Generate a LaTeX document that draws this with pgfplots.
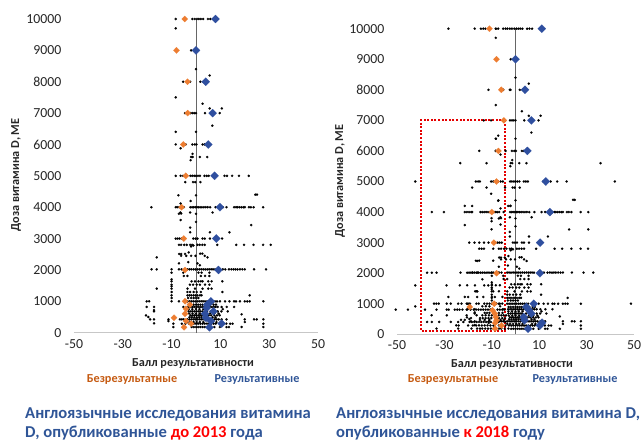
\documentclass[border=0pt]{standalone}
\usepackage{pgfplots}
\usepackage{pgfplotstable}
\usepackage{fontspec}
\setmainfont{Carlito}
\pgfplotsset{compat=1.18}
\definecolor{dorange}{HTML}{ED7D31}
\definecolor{lorange}{HTML}{C55A11}
\definecolor{dblue}{HTML}{2F4F9F}
\definecolor{tblue}{HTML}{2F5597}
\pgfplotstableread[row sep=\\]{x y\\
-8.3 10000\\ -1.5 10000\\ -0.5 10000\\ 0.4 10000\\ 1.2 10000\\ 2 10000\\ 2.9 10000\\ 4.9 10000\\ 5.9 10000\\ 7 10000\\
-8.3 9700\\ -2 9000\\ 0 8400\\ 5.6 8200\\ -5.3 8000\\ -2.4 8000\\ 1.8 8000\\ 3 8000\\ -8.3 7500\\ 2.7 7300\\ 5.6 7150\\ 10.6 7150\\
-4.5 7000\\ -2.3 7000\\ -1.5 7000\\ -0.7 7000\\ 0 7000\\ 3.7 7000\\ 9.7 7000\\ 6.7 6600\\ -8.3 6400\\ 0 6400\\
-8.3 6000\\ -4.2 6000\\ -1.5 6000\\ -0.5 6000\\ 0.2 6000\\ 2.7 6000\\ 3.5 6000\\ -6.3 5880\\ -1.4 5700\\ -2 5600\\ -1.4 5600\\ 1.6 5600\\ 4.6 5600\\ -2.2 5500\\
-8.3 5000\\ -6.3 5000\\ -5.3 5000\\ -2.3 5000\\ -1.5 5000\\ -0.7 5000\\ 0 5000\\ 0.8 5000\\ 1.6 5000\\ 3.5 5000\\ 4.4 5000\\ 5.2 5000\\ 11.7 5000\\ 12.7 5000\\ 14.8 5000\\ 17.6 5000\\ 21.6 5000\\
-4.4 4800\\ -1.2 4800\\ -0.3 4800\\ 1.8 4800\\ 24.3 4400\\ 25 4400\\ -7.2 4380\\ 0 4380\\ -2.2 4200\\ -6.3 4120\\
-18.3 4000\\ -8.3 4000\\ -7.7 4000\\ -6.9 4000\\ -5 4000\\ -2.3 4000\\ -1.6 4000\\ -1 4000\\ -0.3 4000\\ 0.4 4000\\ 1 4000\\ 1.7 4000\\ 2.4 4000\\ 3.2 4000\\ 4 4000\\ 4.8 4000\\ 5.8 4000\\ 8 4000\\ 11 4000\\ 12.5 4000\\ 15.6 4000\\ 16.4 4000\\ 17 4000\\ 17.8 4000\\ 18.6 4000\\ 19.4 4000\\ 20 4000\\ 21.7 4000\\ 22.5 4000\\ 23.6 4000\\ 27.5 4000\\
-7 3790\\ -6.4 3830\\ -6.1 3800\\ -2.4 3830\\ 0 3790\\ 6.8 3830\\ -6.3 3590\\ 0 3530\\ 22.6 3430\\ -2.4 3350\\ -2.4 3200\\ 5.7 3200\\ 13.7 3200\\
-8.3 3000\\ -7.5 3000\\ -6.7 3000\\ -5.8 3000\\ -1.1 3000\\ -0.2 3000\\ 0.6 3000\\ 2.7 3000\\ 3.6 3000\\ 5.7 3000\\ 10.7 3000\\
-7 2800\\ -6.1 2800\\ -4.8 2800\\ -3.8 2800\\ -2.4 2800\\ -2 2750\\ -1.6 2800\\ -1.1 2780\\ 0.6 2800\\ 1.5 2800\\ 2.6 2800\\ 3.6 2800\\ 8.7 2800\\ 16.5 2800\\ 19.7 2800\\ 23.6 2800\\ 27.5 2800\\ 30.6 2800\\
-6.9 2510\\ -6.1 2510\\ -6.1 2450\\ -4.5 2510\\ -3 2560\\ -4 2450\\ -2 2450\\ -0.2 2450\\ 1.7 2520\\ 2.6 2520\\ 3.6 2450\\ 4.7 2400\\ -16.1 2400\\
-7 2210\\ -3.2 2250\\ 0.6 2210\\ 1.6 2150\\
-18.2 2020\\ -16.1 2020\\ -10 2020\\ -7 2020\\ -5.9 2020\\ -3.5 2020\\ -2.7 2020\\ -1.9 2020\\ -1 2020\\ -0.2 2020\\ 0.6 2020\\ 1.4 2020\\ 2.2 2020\\ 3 2020\\ 3.8 2020\\ 4.6 2020\\ 5.4 2020\\ 6.2 2020\\ 7 2020\\ 7.8 2020\\ 11 2020\\ 12 2020\\ 13.5 2020\\ 14.5 2020\\ 15.4 2020\\ 16.2 2020\\ 17 2020\\ 18 2020\\ 19 2020\\ 20 2020\\ 23.8 2020\\ 28.7 2020\\
-10 1914\\ -5.2 1914\\ 1 1914\\ 2.3 1914\\ 5.5 1914\\ -5 1808\\ -3.5 1808\\ 2 1808\\ 3.7 1808\\ 5.5 1808\\ -10 1700\\
-10 1637\\ -1.8 1637\\ -0.4 1637\\ 1 1637\\ 2 1637\\ 2.7 1637\\ 5 1637\\ 6.4 1637\\ 10.8 1637\\
-10 1530\\ -2.5 1530\\ -1.2 1530\\ 0.3 1530\\ 1.6 1530\\ 3.7 1530\\ 5.5 1530\\ -10 1478\\
-16.1 1404\\ -10 1404\\ -3.5 1404\\ -0.4 1404\\ 2.7 1404\\ 5 1404\\ 6.4 1404\\
-10 1297\\ -3.5 1297\\ -2.4 1297\\ -1 1297\\ 0.3 1297\\ 2 1297\\ 10.8 1297\\
-10 1191\\ -3.5 1191\\ -2.7 1191\\ -1.9 1191\\ -1 1191\\ -0.2 1191\\ 0.6 1191\\ 1.6 1191\\ 2.3 1191\\ 22 1191\\
-10 1106\\ -3.2 1106\\ -2 1106\\ -1 1106\\ 0 1106\\ 1 1106\\
-20.2 1000\\ -19.2 1000\\ -10 1000\\ -7 1000\\ -3.5 1000\\ -2.7 1000\\ -1.9 1000\\ -1.1 1000\\ -0.3 1000\\ 0.5 1000\\ 1.3 1000\\ 2.1 1000\\ 2.9 1000\\ 3.7 1000\\ 4.5 1000\\ 5.3 1000\\ 7 1000\\ 7.8 1000\\ 8.6 1000\\ 9.8 1000\\ 11.9 1000\\ 13.7 1000\\ 15.6 1000\\ 16.4 1000\\ 18 1000\\ 20 1000\\ 21 1000\\ 22 1000\\ 27.6 1000\\
-2.9 893\\ -2 893\\ -1 893\\ 0 893\\ 0.9 893\\ 1.8 893\\ 2.7 893\\ 3.6 893\\ 5.8 893\\ 7.2 893\\ 8.2 893\\
-20.2 820\\ -17.2 820\\ -5.2 820\\ -3.1 820\\ -2.3 820\\ -1.5 820\\ -0.7 820\\ 0.1 820\\ 0.9 820\\ 1.7 820\\ 2.5 820\\ 3.3 820\\ 4.9 820\\ 5.7 820\\ 6.5 820\\ 7.3 820\\ 8 820\\ 8.9 820\\ 10.5 820\\ 12.6 820\\ 15.6 820\\
-17.2 720\\ -3 750\\ -1.5 750\\ 0 750\\ 1.4 750\\ 3 750\\ 11 750\\
-17.2 680\\ -3 680\\ -2.1 680\\ -1.3 680\\ -0.5 680\\ 0.3 680\\ 1.1 680\\ 1.9 680\\ 2.7 680\\ 4.5 680\\ 6 680\\ 8.9 680\\ 10.4 680\\ 13 680\\
-2.8 610\\ -1.4 610\\ 0 610\\ 1.5 610\\ 2.8 610\\ 5.7 610\\ 7.5 610\\ 9.3 610\\
18.7 585\\ -20.5 553\\ -2.3 553\\ -1.5 553\\ -0.7 553\\ 0.1 553\\ 0.9 553\\ 1.7 553\\ 2.5 553\\ 5.2 553\\ 6.2 553\\ 7.5 553\\ 8.6 553\\ 9.7 553\\
-19.5 500\\ -2.7 490\\ -1.7 490\\ -0.7 490\\ 0.3 490\\ 1.3 490\\ 2.3 490\\ 6.8 490\\ 8 490\\
-18.8 425\\ -17.2 425\\ -11.3 425\\ -6.6 425\\ -5.8 425\\ -5 425\\ -3.5 425\\ -2.7 425\\ -1.9 425\\ -1.1 425\\ -0.3 425\\ 0.5 425\\ 1.3 425\\ 2.1 425\\ 2.9 425\\ 3.7 425\\ 4.5 425\\ 5.3 425\\ 6.1 425\\ 6.9 425\\ 7.7 425\\ 8.5 425\\ 9.3 425\\ 10.5 425\\ 12.5 425\\ 20 425\\ 23.8 425\\ 24.9 425\\ 27.6 425\\
-11.3 370\\ -17.2 300\\ -3.5 340\\ -2.3 340\\ -1 340\\ 0.3 340\\ 1.6 340\\ 3 340\\ 7 340\\ 8.4 340\\ 20 340\\
-9.3 287\\ -5.8 287\\ -4.3 287\\ -2.8 287\\ -1.8 287\\ -0.9 287\\ 0 287\\ 0.9 287\\ 1.8 287\\ 2.7 287\\ 3.6 287\\ 4.5 287\\ 5.4 287\\ 6.3 287\\ 7.2 287\\ 8.1 287\\ 12.4 287\\ 14 287\\ 15 287\\ 27.6 287\\
-9.3 180\\ -4.5 180\\ -1.8 180\\ -0.9 180\\ 0 180\\ 0.9 180\\ 1.8 180\\ 2.7 180\\ 3.6 180\\ 7.5 180\\ 9.8 180\\ 12.5 180\\ 13.5 180\\ 18.7 180\\ 27.6 180\\
}\tableA
\pgfplotstableread[row sep=\\]{x y\\
-28.3 10000\\ -17.2 10000\\ -14.6 10000\\ -13.6 10000\\ -12.7 10000\\ -8.3 10000\\ -7.3 10000\\ -5.2 10000\\ -4.2 10000\\ -3.4 10000\\ -2.4 10000\\
-11.4 8000\\ -5.2 8000\\ -2.1 8000\\ -13.4 7000\\ -10.3 7000\\ -7.3 6500\\ -8.3 6400\\ -15.3 6000\\ -8.3 6000\\ -23.3 5600\\ -12.2 5600\\ 35.9 5600\\
-42.3 5000\\ -16.7 5000\\ -15.8 5000\\ -15 5000\\ -10.3 5000\\ -9.4 5000\\ -7.3 5000\\ 41.9 5000\\ -18.3 4800\\ -12.2 4800\\ -10.3 4600\\ -7.3 4370\\ -21.4 4200\\ -18.3 4200\\ -3.1 4200\\ -2.1 4200\\
-35.3 4000\\ -30.2 4000\\ -21.4 4000\\ -20.5 4000\\ -19.6 4000\\ -18.7 4000\\ -14.8 4000\\ -14 4000\\ -13.2 4000\\ -12.4 4000\\ -11.6 4000\\ -10.8 4000\\ -9.5 4000\\ -8.7 4000\\ 30.7 4000\\
-10.1 3800\\ -10.1 3700\\ -21.4 3575\\ -10.1 3435\\ 30.7 3435\\ -19.5 3000\\ -17.3 3000\\ -15.3 3000\\ -13.3 3000\\ -11.4 3000\\ -9.4 3000\\
-15.3 2800\\ -14.3 2800\\ -13.3 2800\\ -9.4 2800\\ -16.7 2408\\ -15.3 2408\\ -9.4 2408\\
-37.3 2016\\ -35.3 2016\\ -33.3 2016\\ -23.2 2016\\ -20.4 2016\\ -19.6 2016\\ -18.8 2016\\ -18 2016\\ -17.2 2016\\ -16.4 2016\\ -15.6 2016\\ -14.8 2016\\ -14 2016\\ -13.2 2016\\ -12.4 2016\\ -11.6 2016\\ -10.8 2016\\ -10 2016\\ -9.2 2016\\ -7 2016\\ 32.8 2016\\
-14 1800\\ -42.3 1603\\ -29.1 1603\\ -23.5 1603\\ -20.4 1603\\ -17.1 1603\\ -13.2 1603\\ -11.5 1603\\ -10 1603\\ -8.3 1603\\ -6.6 1603\\
-17 1407\\ -16.4 1407\\ -9.4 1407\\ -7 1407\\ -28.3 1221\\ -21.4 1221\\ -20 1221\\ -16.2 1221\\ -13.6 1221\\ -10 1221\\ -8.7 1221\\ -5.5 1221\\
-34.4 1003\\ -33.4 1003\\ -32.4 1003\\ -29 1003\\ -27.3 1003\\ -24.2 1003\\ -22.8 1003\\ -20.6 1003\\ -19.6 1003\\ -16.5 1003\\ -15.5 1003\\ -13.2 1003\\ -12 1003\\ -11 1003\\ -8 1003\\ -6.6 1003\\ -5.6 1003\\ 48.7 1003\\
-42.3 916\\ -19 916\\ -14 916\\ -12.5 916\\ -11 916\\ -6.5 916\\
-50.5 807\\ -45.4 807\\ -38.2 807\\ -33.3 807\\ -29 807\\ -28.2 807\\ -25.6 807\\ -24.6 807\\ -23.6 807\\ -22.4 807\\ -20.6 807\\ -19 807\\ -17.6 807\\ -16.6 807\\ -15.6 807\\ -14.6 807\\ -13.6 807\\ -12.6 807\\ -11.6 807\\ -10.6 807\\ -7.6 807\\ -6.6 807\\ -5.6 807\\ -4.6 807\\
-13 700\\ -12 700\\ -11 700\\ -7 700\\ -5.5 700\\
-35.4 622\\ -29 622\\ -20.6 622\\ -16.4 622\\ -14 622\\ -12.6 622\\ -11.2 622\\ -10 622\\ -7 622\\ -6 622\\ -5 622\\ -4 622\\
-18.8 530\\ -15 530\\ -13.8 530\\ -12.6 530\\ -11.4 530\\ -10.2 530\\ -7 530\\ -5.6 530\\ -4.4 530\\
-23 470\\ -21.4 470\\ -15 470\\ -13 470\\ -11 470\\ -6.3 470\\ -4.9 470\\
-37.3 404\\ -35.3 404\\ -32.2 404\\ -27.3 404\\ -24.2 404\\ -22 404\\ -19.4 404\\ -18.4 404\\ -17.4 404\\ -16.4 404\\ -15.4 404\\ -14.4 404\\ -13.4 404\\ -12.4 404\\ -11.4 404\\ -10.4 404\\ -7.2 404\\ -4.3 404\\
-25 290\\ -24 290\\ -20 290\\ -18 290\\ -16.6 290\\ -15.4 290\\ -14.2 290\\ -13 290\\ -11.8 290\\ -10.6 290\\ -7 290\\
-33.3 186\\ -24.2 186\\ -18.6 186\\ -16.2 186\\ -15 186\\ -14 186\\ -12.8 186\\ -11.6 186\\ -10.4 186\\ -7 186\\ -6 186\\ -3 186\\
}\tableB
\pgfplotsset{
  panel/.style={
    scale only axis, axis x line=bottom, axis y line=left,
    axis line style={-}, x axis line style={draw=black!22, line width=0.8pt},
    y axis line style={draw=none}, major tick length=0pt,
    xmin=-50, xmax=50, ymin=0, ymax=10000,
    scaled y ticks=false, scaled x ticks=false,
    xtick={-50,-30,-10,10,30,50},
    ytick={0,1000,2000,3000,4000,5000,6000,7000,8000,9000,10000},
    /pgf/number format/assume math mode=true,
    /pgf/number format/1000 sep={},
    tick label style={font=\fontsize{13.8}{14}\selectfont, text=black!85},
    yticklabel style={xshift=-9pt}, xticklabel style={yshift=-3pt},
    clip=false,
  },
  dots/.style={only marks, mark=*, mark size=1.2pt, black, mark options={draw=black, fill=black, line width=0.1pt}},
  oran/.style={only marks, mark=diamond*, mark size=3.1pt, mark options={draw=dorange, fill=dorange, line width=0.1pt, xscale=1.33}},
  blu/.style={only marks, mark=diamond*, mark size=4.1pt, mark options={draw=dblue, fill=dblue, line width=0.1pt, xscale=1.33}},
  cline/.style={no markers, draw=black!60, line width=0.9pt},
}
\begin{document}
\begin{tikzpicture}[x=1pt,y=1pt]
\path[use as bounding box] (0,0) rectangle (641,441);
\begin{axis}[panel, at={(74pt,108.3pt)}, anchor=south west, width=244pt, height=313.7pt]
\addplot[dots] table {\tableA};
\addplot[cline] coordinates {(0,0) (0,10000)};
\addplot[oran] coordinates {(-4.6,10000) (-8,9000) (-3.5,8000) (-3.4,7000) (-5.2,6000) (-4.2,5000) (-5.9,4000) (-5,3000) (-4.5,2000) (-4.5,1000) (-2.5,893) (-4.1,765) (-4.5,606) (-9,478) (-4.1,373) (-2,287) (-4.9,172)};
\addplot[blu] coordinates {(8,10000) (0,9000) (4,8000) (6.8,7000) (5,6000) (7.6,5000) (9.8,4000) (8.3,3000) (9.2,2000) (6.1,1000) (4.6,893) (4.4,790) (7.1,680) (3.7,606) (4.1,478) (6.1,373) (10.5,287) (5.5,172)};
\end{axis}
\begin{axis}[panel, at={(397pt,106.7pt)}, anchor=south west, width=237pt, height=305.6pt]
\addplot[dots] table {\tableA};
\addplot[dots] table {\tableB};
\addplot[cline] coordinates {(0,0) (0,10000)};
\addplot[no markers, draw=red!90!black, line width=2pt, dash pattern=on 2pt off 1.6pt] coordinates {(-4.5,7000) (-40,7000) (-40,120) (-4.5,120) (-4.5,7000)};
\addplot[oran] coordinates {(-11,10000) (-8,9000) (-6,8000) (-4.9,7000) (-7.2,6000) (-8,5000) (-10,4000) (-9.1,3000) (-8,2000) (-9,1000) (-19.3,893) (-9.7,785) (-8.7,675) (-8.3,565) (-8,458) (-8.6,370) (-5.9,290) (-8.6,183)};
\addplot[blu] coordinates {(11.1,10000) (0,9000) (4,8000) (6.7,7000) (5,6000) (12.8,5000) (14.5,4000) (10.4,3000) (10.3,2000) (7.7,1000) (4.6,893) (5.7,785) (6.7,675) (3.5,565) (3.8,458) (11.2,380) (10.3,290) (5.3,183)};
\end{axis}
\def\lab{\fontsize{12.2}{13}\selectfont\bfseries}
\node[rotate=90, font=\lab, text=black!85] at (16,266) {Доза витамина D, МЕ};
\node[rotate=90, font=\lab, text=black!85] at (340,260) {Доза витамина D, МЕ};
\node[font=\lab, text=black!85] at (193,77) {Балл результативности};
\node[font=\lab, text=black!85] at (512,76) {Балл результативности};
\node[font=\lab, text=lorange] at (132,61) {Безрезультатные};
\node[font=\lab, text=tblue] at (257,61) {Результативные};
\node[font=\lab, text=lorange] at (453,61) {Безрезультатные};
\node[font=\lab, text=tblue] at (575,61) {Результативные};
\def\ttl{\fontsize{16.6}{17}\selectfont\bfseries}
\node[anchor=base west, inner sep=0, font=\ttl, text=tblue] at (25,22.5) {Англоязычные исследования витамина};
\node[anchor=base west, inner sep=0, font=\ttl, text=tblue] at (25,3.8) {D, опубликованные \textcolor{red}{до 2013} года};
\node[anchor=base west, inner sep=0, font=\ttl, text=tblue] at (336,22.5) {Англоязычные исследования витамина D,};
\node[anchor=base west, inner sep=0, font=\ttl, text=tblue] at (336,3.8) {опубликованные \textcolor{red}{к 2018} году};
\end{tikzpicture}
\end{document}
